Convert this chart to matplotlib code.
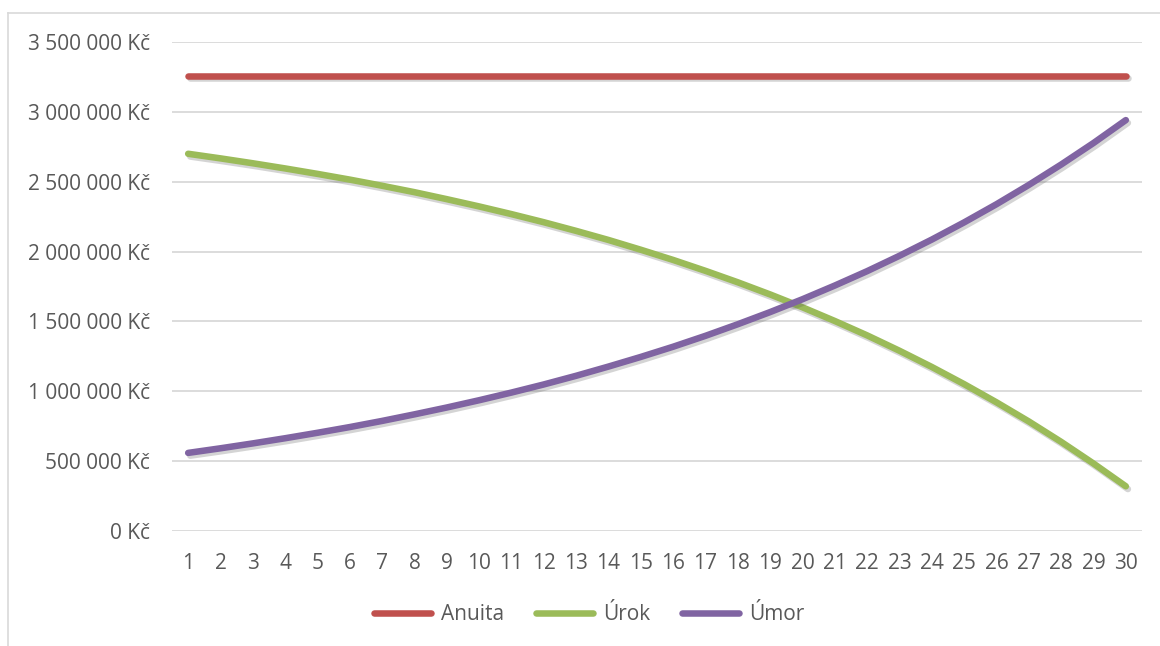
import matplotlib.pyplot as plt
import matplotlib.patheffects as pe
from matplotlib.lines import Line2D

# yearly values (Kč)
years = list(range(1, 31))
anuita = [3259000] * 30
urok = [2700000, 2667000, 2632000, 2595000, 2556000, 2515000, 2471000, 2425000,
        2375000, 2323000, 2268000, 2210000, 2148000, 2083000, 2013000, 1940000,
        1862000, 1780000, 1693000, 1601000, 1503000, 1400000, 1290000, 1174000,
        1051000, 921000, 784000, 638000, 483000, 320000]
umor = [559000, 592000, 627000, 664000, 703000, 744000, 788000, 835000,
        884000, 936000, 991000, 1049000, 1111000, 1177000, 1246000, 1319000,
        1397000, 1480000, 1567000, 1659000, 1757000, 1860000, 1970000, 2086000,
        2209000, 2339000, 2477000, 2623000, 2777000, 2941000]
series = [('Anuita', anuita, '#C0504D'), ('Úrok', urok, '#9BBB59'), ('Úmor', umor, '#8064A2')]
yticks = [0, 500000, 1000000, 1500000, 2000000, 2500000, 3000000, 3500000]

plt.rcParams['font.family'] = ['Open Sans', 'DejaVu Sans']

fig = plt.figure(figsize=(11.6, 6.46), dpi=100)
ax = fig.add_axes([172 / 1160, 1 - 531 / 646, 970 / 1160, 489 / 646])

shadow = [pe.SimpleLineShadow(offset=(1.5, -2), alpha=0.25, shadow_color='#555555'), pe.Normal()]
for name, vals, col in series:
    ax.plot(years, vals, color=col, lw=4.7, solid_capstyle='round', label=name,
            path_effects=shadow, zorder=3)

ax.set_xlim(0.5, 30.5)
ax.set_ylim(0, 3500000)
ax.set_yticks(yticks)
ax.set_yticklabels(['0 Kč'] + ['{:,} Kč'.format(v).replace(',', ' ') for v in yticks[1:]])
ax.set_xticks(years)
ax.tick_params(length=0, labelsize=15, colors='#595959')
ax.tick_params(axis='x', pad=16)
ax.tick_params(axis='y', pad=16)
ax.grid(axis='y', color='#d9d9d9', lw=1.3)
ax.set_axisbelow(True)
for s in ax.spines.values():
    s.set_visible(False)

handles = [Line2D([], [], color=c, lw=4.7, solid_capstyle='round') for _, _, c in series]
fig.legend(handles, [n for n, _, _ in series], loc='center', bbox_to_anchor=(0.508, 1 - 615 / 646),
           ncol=3, frameon=False, fontsize=15, handlelength=2.75, columnspacing=1.5,
           handletextpad=0.5, labelcolor='#595959')

# outer chart frame
fig.add_artist(Line2D([8 / 1160, 8 / 1160], [0, 1 - 13 / 646], color='#d9d9d9', lw=1.2))
fig.add_artist(Line2D([8 / 1160, 1], [1 - 13 / 646, 1 - 13 / 646], color='#d9d9d9', lw=1.2))

fig.savefig('out.png', dpi=100)
